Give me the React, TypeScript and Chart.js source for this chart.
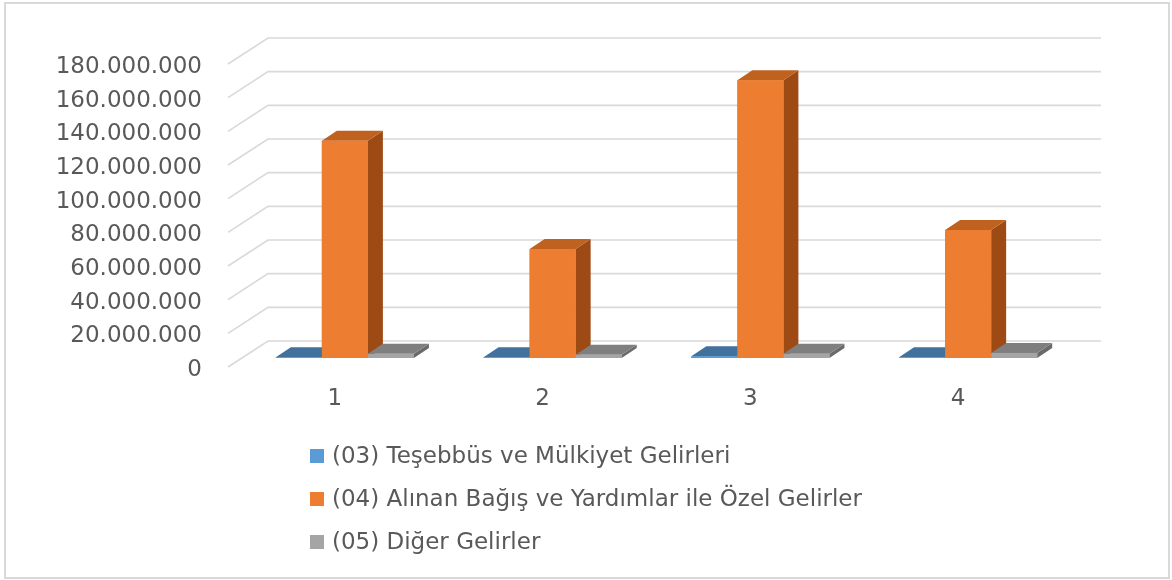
import React, { useEffect, useRef } from "react";
import { Chart, registerables } from "chart.js";

Chart.register(...registerables);

const categories = ["1", "2", "3", "4"];
const seriesNames = [
  "(03) Teşebbüs ve Mülkiyet Gelirleri",
  "(04) Alınan Bağış ve Yardımlar ile Özel Gelirler",
  "(05) Diğer Gelirler",
];
const tesebbusValues = [500000, 400000, 1000000, 400000];
const bagisValues = [129000000, 64700000, 165000000, 76000000];
const digerValues = [2500000, 2000000, 2500000, 3000000];
const yMin = 0;
const yMax = 180000000;
const yStep = 20000000;

const frontColors = ["#5B9BD5", "#ED7D31", "#A5A5A5"];
const topColors = ["#41719C", "#C0621F", "#7F7F7F"];
const sideColors = ["#35638F", "#9E4A14", "#6A6A6A"];

const FONT = "'DejaVu Sans', sans-serif";
const TEXT = "#595959";
const GRID = "#D9D9D9";
const DX = 15;
const DY = -10;

const fmt = (v: number) =>
  String(Math.round(v)).replace(/\B(?=(\d{3})+(?!\d))/g, ".");

const wallPlugin = {
  id: "wall3d",
  beforeDatasetsDraw(chart: any) {
    const { ctx, chartArea } = chart;
    const ys = chart.scales.y;
    ctx.save();
    ctx.strokeStyle = GRID;
    ctx.lineWidth = 1.6;
    ys.ticks.forEach((t: any) => {
      const y = ys.getPixelForValue(t.value);
      ctx.beginPath();
      ctx.moveTo(chartArea.left - 13, y + 9);
      ctx.lineTo(chartArea.left + 27, y - 17);
      ctx.lineTo(chartArea.right + 29, y - 17);
      ctx.stroke();
    });
    ctx.restore();
  },
  afterDatasetsDraw(chart: any) {
    const { ctx } = chart;
    const n = chart.data.labels.length;
    ctx.save();
    for (let c = 0; c < n; c++) {
      chart.data.datasets.forEach((ds: any, i: number) => {
        const el: any = chart.getDatasetMeta(i).data[c];
        if (!el) return;
        const { x, y, base, width } = el.getProps(["x", "y", "base", "width"], true);
        const l = x - width / 2;
        const r = x + width / 2;
        // side
        ctx.fillStyle = sideColors[i];
        ctx.beginPath();
        ctx.moveTo(r, y);
        ctx.lineTo(r + DX, y + DY);
        ctx.lineTo(r + DX, base + DY);
        ctx.lineTo(r, base);
        ctx.closePath();
        ctx.fill();
        // top
        ctx.fillStyle = topColors[i];
        ctx.beginPath();
        ctx.moveTo(l, y);
        ctx.lineTo(l + DX, y + DY);
        ctx.lineTo(r + DX, y + DY);
        ctx.lineTo(r, y);
        ctx.closePath();
        ctx.fill();
        // front
        ctx.fillStyle = frontColors[i];
        ctx.fillRect(l, y, width, base - y);
      });
    }
    ctx.restore();
  },
  afterDraw(chart: any) {
    const { ctx } = chart;
    ctx.save();
    // legend
    ctx.font = `23px ${FONT}`;
    ctx.textBaseline = "middle";
    ctx.textAlign = "left";
    chart.data.datasets.forEach((ds: any, i: number) => {
      const cy = 456 + i * 43;
      ctx.fillStyle = frontColors[i];
      ctx.fillRect(310, cy - 7, 14, 14);
      ctx.fillStyle = TEXT;
      ctx.fillText(ds.label, 332, cy + 1);
    });
    // outer border
    ctx.strokeStyle = GRID;
    ctx.lineWidth = 2;
    ctx.strokeRect(5, 3, 1164, 575);
    ctx.restore();
  },
};

export default function App() {
  const ref = useRef<HTMLCanvasElement | null>(null);
  useEffect(() => {
    if (!ref.current) return;
    const chart = new Chart(ref.current, {
      type: "bar",
      data: {
        labels: categories,
        datasets: [
          { label: seriesNames[0], data: tesebbusValues, backgroundColor: frontColors[0] },
          { label: seriesNames[1], data: bagisValues, backgroundColor: frontColors[1] },
          { label: seriesNames[2], data: digerValues, backgroundColor: frontColors[2] },
        ],
      },
      options: {
        responsive: false,
        animation: false,
        datasets: { bar: { categoryPercentage: 0.665, barPercentage: 1.0 } },
        layout: { padding: { left: 0, right: 100, top: 55, bottom: 0 } },
        plugins: { legend: { display: false }, tooltip: { enabled: false } },
        scales: {
          x: {
            grid: { display: false, drawTicks: false },
            border: { display: false },
            ticks: {
              color: TEXT,
              font: { family: FONT, size: 23 },
              labelOffset: -10,
              padding: 27,
            },
            afterFit: (s: any) => {
              s.height = 222;
            },
          },
          y: {
            min: yMin,
            max: yMax,
            grid: { display: false, drawTicks: false },
            border: { display: false },
            ticks: {
              stepSize: yStep,
              color: TEXT,
              font: { family: FONT, size: 23 },
              padding: 39,
              labelOffset: 12,
              callback: (v: any) => fmt(Number(v)),
            },
            afterFit: (s: any) => {
              s.width = 241;
            },
          },
        },
      },
      plugins: [wallPlugin],
    } as any);
    return () => chart.destroy();
  }, []);
  return (
    <div style={{ position: "fixed", left: 0, top: 0, width: 1172, height: 580, background: "#fff" }}>
      <canvas ref={ref} width={1172} height={580} style={{ display: "block" }} />
    </div>
  );
}
